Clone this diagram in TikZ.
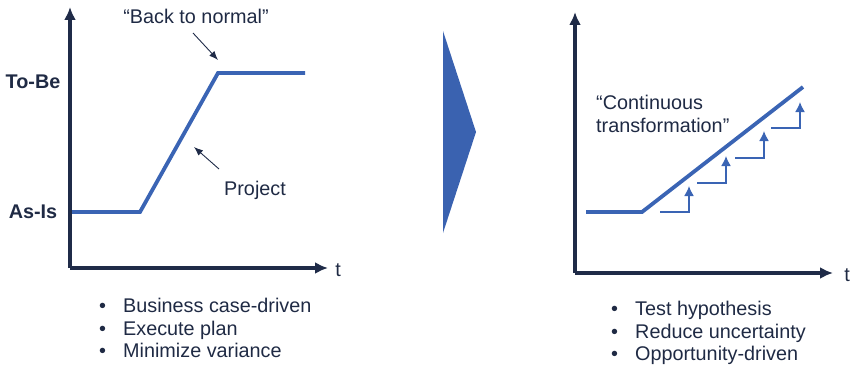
\documentclass[tikz,border=0pt]{standalone}
\usepackage{fontspec}
\setmainfont{Liberation Sans}
\usetikzlibrary{arrows.meta}
\definecolor{navy}{HTML}{1F2B48}
\definecolor{txt}{HTML}{1F2A44}
\definecolor{lineblue}{HTML}{3A64B4}
\definecolor{triblue}{HTML}{3A62B0}
\tikzset{
  axis/.style={draw=navy, line width=3.6pt, -{Latex[length=13pt,width=12pt]}},
  curve/.style={draw=lineblue, line width=3.8pt, line join=miter},
  steparrow/.style={draw=lineblue, line width=1.6pt, -{Latex[length=10pt,width=10pt]}},
  callout/.style={draw=navy, line width=0.9pt, -{Latex[length=9pt,width=7pt]}},
  lbl/.style={text=txt, inner sep=0pt, font=\fontsize{19.8}{23}\selectfont},
  blbl/.style={text=txt, inner sep=0pt, font=\fontsize{19.8}{23}\selectfont\bfseries},
}
\begin{document}
\begin{tikzpicture}[x=1pt,y=-1pt]
\useasboundingbox (0,0) rectangle (850,369);
% ---------- left chart ----------
\coordinate (lo) at (70,268);
\coordinate (ly) at (70,7);
\coordinate (lx) at (328,268);
\draw[axis] (lo) -- (ly);
\draw[axis] (lo) -- (lx);
\node[lbl] (lt) at (338,270) {t};
\coordinate (l1) at (72,212);
\coordinate (l2) at (140,212);
\coordinate (l3) at (218,73);
\coordinate (l4) at (305,73);
\draw[curve] (l1) -- (l2) -- (l3) -- (l4);
\node[blbl] (tobe) at (33,82) {To-Be};
\node[blbl] (asis) at (33,212) {As-Is};
\node[lbl] (btn) at (196,16) {“Back to normal”};
\coordinate (btnA) at (193,33);
\coordinate (btnB) at (218,60);
\draw[callout] (btnA) -- (btnB);
\node[lbl] (proj) at (255,190) {Project};
\coordinate (prA) at (219,169);
\coordinate (prB) at (194,147);
\draw[callout] (prA) -- (prB);
\node[lbl, anchor=west, align=left, font=\fontsize{19.8}{22.5}\selectfont] (lbul) at (99,328)
  {\makebox[24pt][l]{•}Business case-driven\\\makebox[24pt][l]{•}Execute plan\\\makebox[24pt][l]{•}Minimize variance};
% ---------- big arrow ----------
\coordinate (ta) at (443,31);
\coordinate (tb) at (476,132);
\coordinate (tc) at (443,233);
\fill[triblue] (ta) -- (tb) -- (tc) -- cycle;
% ---------- right chart ----------
\coordinate (ro) at (575,273);
\coordinate (ry) at (575,12);
\coordinate (rx) at (833,273);
\draw[axis] (ro) -- (ry);
\draw[axis] (ro) -- (rx);
\node[lbl] (rt) at (847,275) {t};
\coordinate (r1) at (586,212);
\coordinate (r2) at (642,212);
\coordinate (r3) at (803,87);
\draw[curve] (r1) -- (r2) -- (r3);
\coordinate (s1a) at (660,212); \coordinate (s1b) at (689,212); \coordinate (s1c) at (689,186);
\coordinate (s2a) at (697,183); \coordinate (s2b) at (726,183); \coordinate (s2c) at (726,156);
\coordinate (s3a) at (735,158); \coordinate (s3b) at (764,158); \coordinate (s3c) at (764,131);
\coordinate (s4a) at (771,128); \coordinate (s4b) at (800,128); \coordinate (s4c) at (800,102);
\draw[steparrow] (s1a) -- (s1b) -- (s1c);
\draw[steparrow] (s2a) -- (s2b) -- (s2c);
\draw[steparrow] (s3a) -- (s3b) -- (s3c);
\draw[steparrow] (s4a) -- (s4b) -- (s4c);
\node[lbl, anchor=west, align=left, font=\fontsize{19.8}{23}\selectfont] (ct) at (596,114)
  {“Continuous\\transformation”};
\node[lbl, anchor=west, align=left, font=\fontsize{19.8}{22.5}\selectfont] (rbul) at (611,333)
  {\makebox[24pt][l]{•}Test hypothesis\\\makebox[24pt][l]{•}Reduce uncertainty\\\makebox[24pt][l]{•}Opportunity-driven};
\end{tikzpicture}
\end{document}
